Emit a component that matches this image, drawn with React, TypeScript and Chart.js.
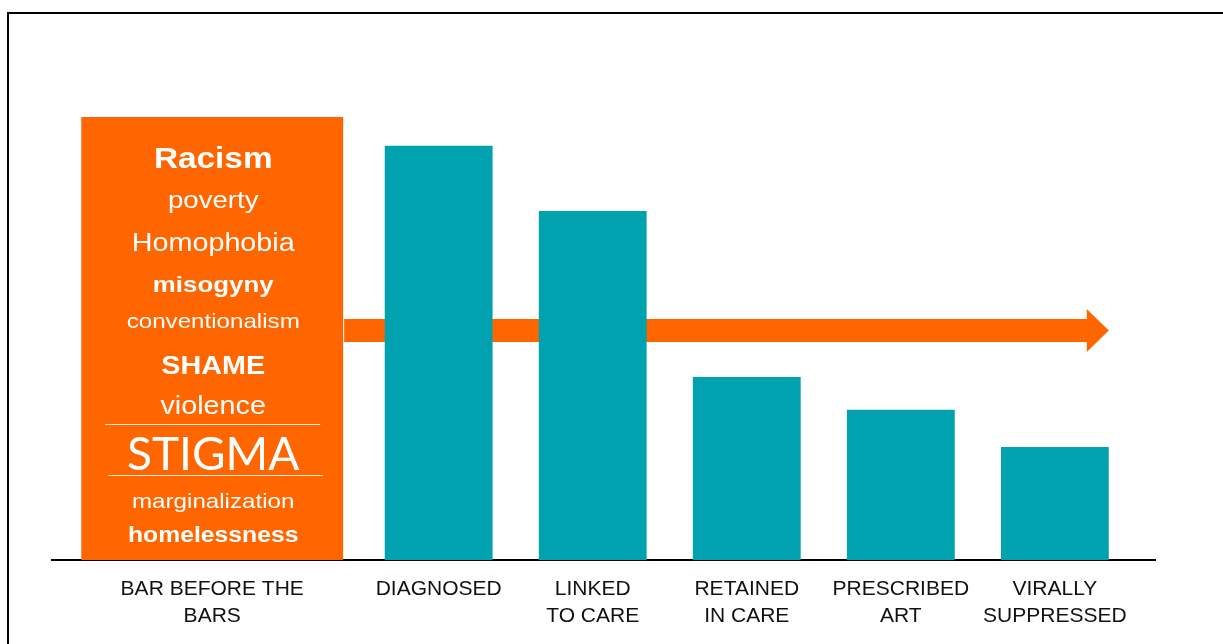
import { useEffect, useRef } from "react";
import { Chart, registerables } from "chart.js";

Chart.register(...registerables);

// x-axis categories (multi-line labels)
const categories: string[][] = [
  ["BAR BEFORE THE", "BARS"],
  ["DIAGNOSED"],
  ["LINKED", "TO CARE"],
  ["RETAINED", "IN CARE"],
  ["PRESCRIBED", "ART"],
  ["VIRALLY", "SUPPRESSED"],
];

// bar heights, relative to the "bar before the bars" (= 100)
const barValues = [100, 93.5, 78.8, 41.3, 33.9, 25.5];

// words written inside the first bar, top to bottom
const barrierWords = [
  "Racism",
  "poverty",
  "Homophobia",
  "misogyny",
  "conventionalism",
  "SHAME",
  "violence",
  "STIGMA",
  "marginalization",
  "homelessness",
];

// level (in y units) of the arrow running behind the cascade
const arrowLevel = 51.8;

const ORANGE = "#FF6600";
const TEAL = "#00A2B0";
const SANS = "'Liberation Sans', Arial, sans-serif";

// first bar straddles two slots, the others get one each
const slotOf = (i: number) => (i === 0 ? 0.53 : i + 1);

// style for each word: font size, weight, baseline offset from bar top
const wordStyle = [
  { size: 29, bold: true, dy: 51 },
  { size: 24, bold: false, dy: 91 },
  { size: 25, bold: false, dy: 134 },
  { size: 22.5, bold: true, dy: 175 },
  { size: 21, bold: false, dy: 211 },
  { size: 25, bold: true, dy: 257 },
  { size: 25, bold: false, dy: 297 },
  { size: 46, bold: false, dy: 353, family: "Lato, 'Open Sans', sans-serif", stretch: 1 },
  { size: 21, bold: false, dy: 391 },
  { size: 21.5, bold: true, dy: 425 },
];
const dividers = [307, 358];

const arrowPlugin = {
  id: "cascadeArrow",
  beforeDatasetsDraw(chart: any) {
    const ctx = chart.ctx;
    const first = chart.getDatasetMeta(0).data[0];
    const rest = chart.getDatasetMeta(1).data;
    const last = rest[rest.length - 1];
    const x0 = first.x + first.width / 2 + 1;
    const tip = last.x + last.width / 2;
    const y = chart.scales.y.getPixelForValue(arrowLevel);
    const half = 11.5;
    const headHalf = 21.5;
    const headLen = 22;
    ctx.save();
    ctx.fillStyle = ORANGE;
    ctx.beginPath();
    ctx.moveTo(x0, y - half);
    ctx.lineTo(tip - headLen, y - half);
    ctx.lineTo(tip - headLen, y - headHalf);
    ctx.lineTo(tip, y);
    ctx.lineTo(tip - headLen, y + headHalf);
    ctx.lineTo(tip - headLen, y + half);
    ctx.lineTo(x0, y + half);
    ctx.closePath();
    ctx.fill();
    ctx.restore();
  },
};

const wordsPlugin = {
  id: "barrierWords",
  afterDatasetsDraw(chart: any) {
    const ctx = chart.ctx;
    const bar = chart.getDatasetMeta(0).data[0];
    const cx = bar.x + 1;
    const top = bar.y;
    ctx.save();
    ctx.fillStyle = "#fff";
    ctx.textAlign = "center";
    ctx.textBaseline = "alphabetic";
    barrierWords.forEach((word, i) => {
      const s: any = wordStyle[i];
      ctx.save();
      ctx.font = `${s.bold ? "bold " : ""}${s.size}px ${s.family ?? SANS}`;
      ctx.translate(cx, top + s.dy);
      ctx.scale(s.stretch ?? 1.15, 1);
      ctx.fillText(word, 0, 0);
      ctx.restore();
    });
    ctx.strokeStyle = "rgba(255,255,255,0.85)";
    ctx.lineWidth = 1;
    dividers.forEach((dy, i) => {
      const yy = Math.round(top + dy) + 0.5;
      ctx.beginPath();
      ctx.moveTo(cx - 108 + i * 3, yy);
      ctx.lineTo(cx + 107 + i * 3, yy);
      ctx.stroke();
    });
    ctx.restore();
  },
};

export default function App() {
  const ref = useRef<HTMLCanvasElement>(null);

  useEffect(() => {
    const canvas = ref.current;
    if (!canvas) return;
    const chart = new Chart(canvas, {
      type: "bar",
      data: {
        datasets: [
          {
            data: [{ x: slotOf(0), y: barValues[0] }],
            backgroundColor: ORANGE,
            barPercentage: 1.7,
            categoryPercentage: 1,
          },
          {
            data: barValues.slice(1).map((v, i) => ({ x: slotOf(i + 1), y: v })),
            backgroundColor: TEAL,
            barPercentage: 0.7,
            categoryPercentage: 1,
          },
        ] as any,
      },
      options: {
        animation: false,
        responsive: true,
        maintainAspectRatio: false,
        grouped: false,
        layout: { padding: { left: 52, right: 68, top: 117, bottom: 0 } },
        plugins: { legend: { display: false }, tooltip: { enabled: false } },
        scales: {
          x: {
            type: "linear",
            offset: false,
            min: -0.51,
            max: 6.65,
            grid: { display: false, drawTicks: false, offset: false },
            border: { display: true, color: "#000", width: 2 },
            afterBuildTicks: (scale: any) => {
              scale.ticks = categories.map((_, i) => ({ value: slotOf(i) }));
            },
            afterFit: (scale: any) => {
              scale.height = 84;
            },
            ticks: {
              autoSkip: false,
              maxRotation: 0,
              padding: 16,
              color: "#111",
              font: { family: SANS, size: 21, lineHeight: 1.29 },
              callback: (_v: any, i: number) => categories[i],
            },
          },
          y: { display: false, min: 0, max: 100 },
        },
      } as any,
      plugins: [arrowPlugin, wordsPlugin],
    });
    return () => chart.destroy();
  }, []);

  return (
    <div style={{ position: "fixed", left: 0, top: 0, width: 1223, height: 644, background: "#fff" }}>
      <div
        style={{
          position: "absolute",
          left: 7,
          top: 12,
          right: -10,
          bottom: -10,
          borderTop: "2px solid #000",
          borderLeft: "2px solid #000",
        }}
      />
      <div style={{ position: "absolute", inset: 0 }}>
        <canvas ref={ref} />
      </div>
    </div>
  );
}
